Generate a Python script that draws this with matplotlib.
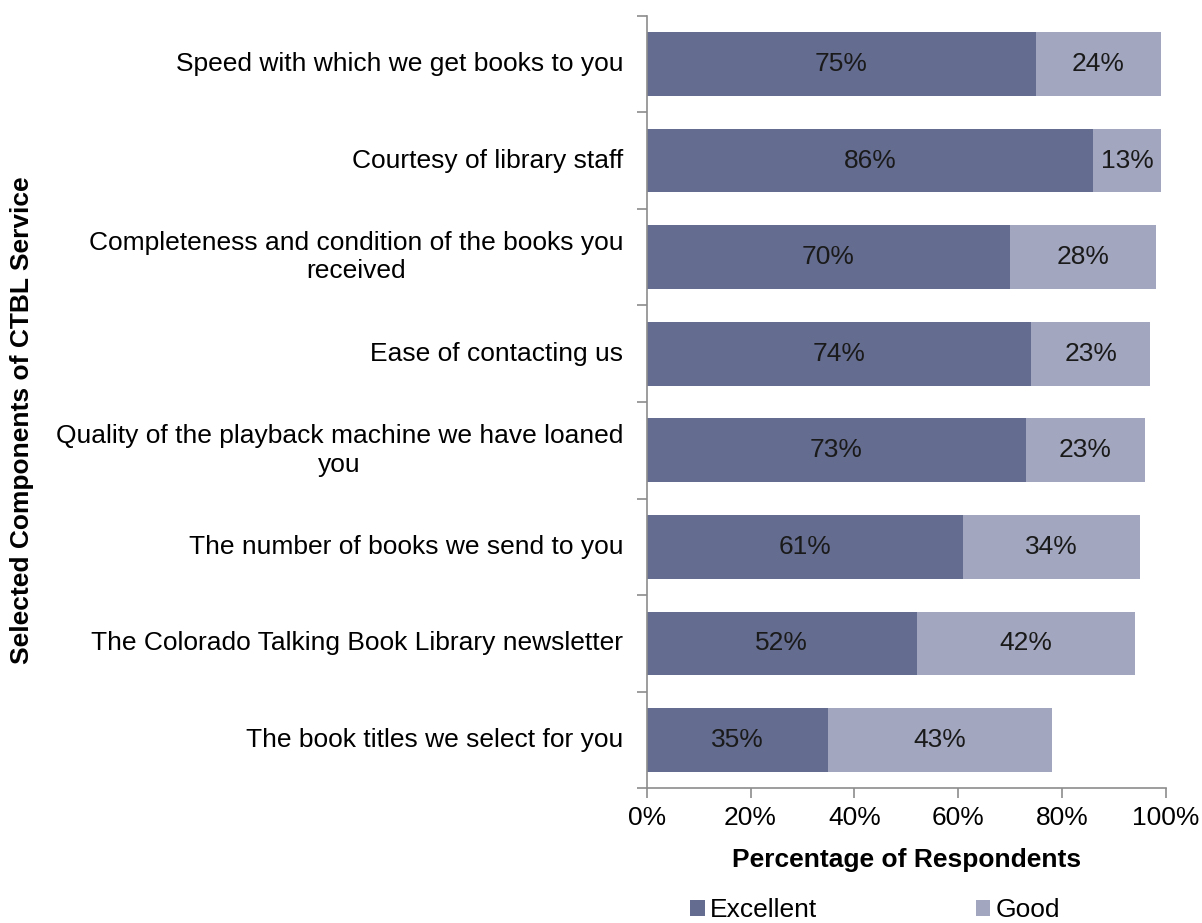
import numpy as np
import matplotlib.pyplot as plt

plt.rcParams['font.family'] = ['Liberation Sans', 'DejaVu Sans']

# Data (top to bottom as shown)
categories = [
    'Speed with which we get books to you',
    'Courtesy of library staff',
    'Completeness and condition of the books you\nreceived',
    'Ease of contacting us',
    'Quality of the playback machine we have loaned\nyou',
    'The number of books we send to you',
    'The Colorado Talking Book Library newsletter',
    'The book titles we select for you',
]
excellent = [75, 86, 70, 74, 73, 61, 52, 35]
good = [24, 13, 28, 23, 23, 34, 42, 43]

c_exc = '#646c8f'
c_good = '#a2a6be'
axis_col = '#8c8c8c'
fs = 19

fig = plt.figure(figsize=(12.02, 9.23), dpi=100)
ax = fig.add_axes([0.538, 0.146, 0.432, 0.837])

n = len(categories)
y = np.arange(n)[::-1]
h = 0.66
ax.barh(y, excellent, height=h, color=c_exc, label='Excellent')
ax.barh(y, good, left=excellent, height=h, color=c_good, label='Good')

for yi, e, g in zip(y, excellent, good):
    ax.text(e / 2, yi, f'{e}%', ha='center', va='center', fontsize=fs, color='#1a1a1a')
    ax.text(e + g / 2, yi, f'{g}%', ha='center', va='center', fontsize=fs, color='#1a1a1a')

ax.set_xlim(0, 100)
ax.set_ylim(-0.5, n - 0.5)

ax.set_xticks(np.arange(0, 101, 20))
ax.set_xticklabels([f'{v}%' for v in range(0, 101, 20)], fontsize=fs)
ax.set_yticks(np.arange(-0.5, n, 1))
ax.set_yticklabels([])
ax.tick_params(axis='y', length=7, color=axis_col, width=1.2)
ax.tick_params(axis='x', length=7, color=axis_col, width=1.2, pad=6)

for yi, lab in zip(y, categories):
    ax.text(-0.045, yi, lab, transform=ax.get_yaxis_transform(), ha='right', va='center',
            multialignment='center', fontsize=fs, linespacing=1.25)

for s in ['top', 'right']:
    ax.spines[s].set_visible(False)
for s in ['left', 'bottom']:
    ax.spines[s].set_color(axis_col)
    ax.spines[s].set_linewidth(1.2)

ax.set_xlabel('Percentage of Respondents', fontsize=fs, fontweight='bold', labelpad=13)
fig.text(0.018, 0.545, 'Selected Components of CTBL Service', rotation=90, ha='center',
         va='center', fontsize=fs, fontweight='bold')

fig.legend(loc='lower center', bbox_to_anchor=(0.728, -0.019), ncol=2, frameon=False, fontsize=fs,
           handlelength=0.55, handleheight=0.55, handletextpad=0.2, columnspacing=6.0,
           borderpad=0.2)

fig.savefig('out.png', dpi=100)
